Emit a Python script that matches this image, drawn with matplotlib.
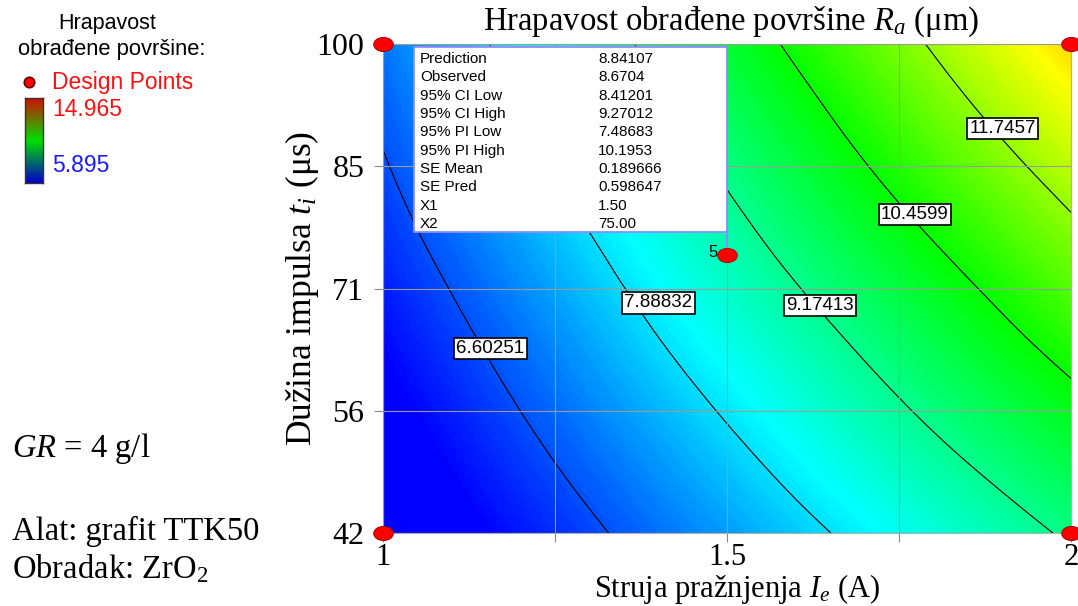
import numpy as np
import matplotlib
matplotlib.use('Agg')
import matplotlib.pyplot as plt
from matplotlib.colors import LinearSegmentedColormap, Normalize
from matplotlib.path import Path
from matplotlib.tri import Triangulation, UniformTriRefiner

plt.rcParams['font.family'] = 'Liberation Serif'
plt.rcParams['mathtext.fontset'] = 'custom'
plt.rcParams['mathtext.rm'] = 'Liberation Serif'
plt.rcParams['mathtext.it'] = 'Liberation Serif:italic'

# factor levels (grid nodes) and Ra
ie = [1.0, 1.25, 1.5, 1.75, 2.0]
ti = [42.0, 56.5, 71.0, 85.5, 100.0]
ra = [[5.30, 6.29, 7.29, 8.28, 9.28],
      [5.71, 6.83, 7.96, 9.09, 10.21],
      [6.14, 7.37, 8.64, 9.88, 11.16],
      [6.55, 7.93, 9.30, 10.71, 12.10],
      [6.94, 8.47, 9.99, 11.51, 13.04]]
levels = [6.60251, 7.88832, 9.17413, 10.4599, 11.7457]
label_x = [1.156, 1.400, 1.635, 1.773, 1.901]
label_y = [63.9, 69.3, 69.0, 79.8, 90.0]
ra_min, ra_max = 5.895, 14.965

xticks = [1, 1.25, 1.5, 1.75, 2]
xtick_labels = ['1', '', '1.5', '', '2']
ytick_labels = ['42', '56', '71', '85', '100']

design_x = [1, 1, 2, 2, 1.5]
design_y = [42, 100, 42, 100, 75]

info_names = ['Prediction', 'Observed', '95% CI Low', '95% CI High', '95% PI Low',
              '95% PI High', 'SE Mean', 'SE Pred', 'X1', 'X2']
info_vals = ['8.84107', '8.6704', '8.41201', '9.27012', '7.48683',
             '10.1953', '0.189666', '0.598647', '1.50', '75.00']

W, H = 1078, 606
fx = lambda px: px / W
fy = lambda py: 1 - py / H

de_cmap = LinearSegmentedColormap.from_list(
    'de', ['#0000ff', '#00ffff', '#00ff00', '#ffff00', '#ff0000'])
norm = Normalize(ra_min, ra_max)

fig = plt.figure(figsize=(W / 100, H / 100), dpi=100)
ax = fig.add_axes([fx(383), fy(533), fx(1071) - fx(383), fy(44) - fy(533)])

# grid -> triangles, smoothed by matplotlib's cubic refiner
X, Y = np.meshgrid(ie, ti)
nx, ny = len(ie), len(ti)
tris = []
for j in range(ny - 1):
    for i in range(nx - 1):
        a = j * nx + i
        tris.append([a, a + 1, a + nx + 1])
        tris.append([a, a + nx + 1, a + nx])
tri = Triangulation(X.ravel(), Y.ravel(), tris)
tri_f, z_f = UniformTriRefiner(tri).refine_field(np.array(ra).ravel(), subdiv=4)

ax.tricontourf(tri_f, z_f, levels=np.linspace(5.0, 13.4, 169), cmap=de_cmap,
               norm=norm, extend='both', antialiased=False, zorder=0)
ax.tricontour(tri_f, z_f, levels=levels, colors='k', linewidths=0.8, zorder=2)

ax.set_xlim(1, 2)
ax.set_ylim(42, 100)
ax.set_xticks(xticks)
ax.set_xticklabels(xtick_labels)
ax.set_yticks(ti)
ax.set_yticklabels(ytick_labels)
ax.grid(True, color='#9a9a9a', lw=0.8, zorder=1)
ax.set_axisbelow(False)
ax.tick_params(axis='x', length=6.5, width=0.8, color='#888888', pad=0.5, labelsize=22)
ax.tick_params(axis='y', length=6.5, width=0.8, color='#888888', pad=7, labelsize=23)
for s in ax.spines.values():
    s.set_color('#b0b0b0')
    s.set_linewidth(0.8)

# contour labels
for lv, lx, ly in zip(levels, label_x, label_y):
    ax.text(lx, ly, f'{lv:g}', family='Liberation Sans', fontsize=13.5,
            ha='center', va='center', zorder=4,
            bbox=dict(boxstyle='square,pad=0.12', fc='white', ec='black', lw=1.2))

# info box
bx0, bx1 = (414 - 383) / 688, 0.5
by0, by1 = (533 - 232) / 489, (533 - 47) / 489
ax.add_patch(plt.Rectangle((bx0, by0), bx1 - bx0, by1 - by0, transform=ax.transAxes,
                           fc='white', ec='#8c8cff', lw=1.3, zorder=5))
for i, (nm, vl) in enumerate(zip(info_names, info_vals)):
    yy = (533 - (59 + 18.35 * i)) / 489
    ax.text((420 - 383) / 688, yy, nm, transform=ax.transAxes, family='Liberation Sans',
            fontsize=11, va='center', ha='left', zorder=6)
    ax.text((598 - 383) / 688, yy, vl, transform=ax.transAxes, family='Liberation Sans',
            fontsize=11, va='center', ha='left', zorder=6)
ax.plot([1.5, 1.5], [42 + by0 * 58, design_y[4]], color='#8c8cff', lw=1.5, zorder=5)

# design points
circ = Path.unit_circle()
ell = Path(circ.vertices * [1, 0.72], circ.codes)
ax.plot(design_x, design_y, ls='none', marker=ell, ms=14, mfc='#ff0000', mec='#b00000',
        mew=0.8, clip_on=False, zorder=7)
ax.text(1.5 - 0.013, 75.3, '5', family='Liberation Sans', fontsize=12,
        ha='right', va='center', zorder=7)

# titles and axis labels
ax.text((731 - 383) / 688, (533 - 22) / 489, r'Hrapavost obrađene površine $R_a$ (μm)',
        transform=ax.transAxes, ha='center', va='center', fontsize=23.5)
ax.text((737 - 383) / 688, (533 - 597) / 489, r'Struja pražnjenja $I_e$ (A)',
        transform=ax.transAxes, ha='center', va='baseline', fontsize=22)
ax.text((302 - 383) / 688, 0.5, r'Dužina impulsa $t_i$ (μs)',
        transform=ax.transAxes, ha='center', va='center', fontsize=25.5, rotation=90)

# left legend
fig.text(fx(107), fy(23), 'Hrapavost', family='Liberation Sans', fontsize=15.5,
         ha='center', va='center')
fig.text(fx(112), fy(49), 'obrađene površine:', family='Liberation Sans', fontsize=15.8,
         ha='center', va='center')
fig.lines.append(plt.Line2D([fx(29)], [fy(82)], transform=fig.transFigure, ls='none',
                            marker='o', ms=7.5, mfc='#ff0000', mec='#600000', mew=1.2))
fig.text(fx(52), fy(82), 'Design Points', family='Liberation Sans', fontsize=16.5,
         color='#ff1010', ha='left', va='center')
fig.text(fx(52), fy(110), f'{ra_max:.3f}', family='Liberation Sans', fontsize=16.5,
         color='#ff1010', ha='left', va='center')
fig.text(fx(52), fy(165), f'{ra_min:.3f}', family='Liberation Sans', fontsize=16.5,
         color='#1a1aff', ha='left', va='center')
cax = fig.add_axes([fx(25), fy(183), fx(43) - fx(25), fy(98) - fy(183)])
bar_cmap = LinearSegmentedColormap.from_list('bar', ['#0000c8', '#00e000', '#d01000'])
cax.imshow(np.linspace(0, 1, 100)[:, None], aspect='auto', origin='lower', cmap=bar_cmap)
cax.set_xticks([])
cax.set_yticks([])
for s in cax.spines.values():
    s.set_color('#333333')
    s.set_linewidth(1.0)

fig.text(fx(12), fy(449), r'$GR$ = 4 g/l', fontsize=23.5, ha='left', va='center')
fig.text(fx(12), fy(531), 'Alat: grafit TTK50', fontsize=23.5, ha='left', va='center')
fig.text(fx(12), fy(569), r'Obradak: ZrO$_2$', fontsize=23.5, ha='left', va='center')

fig.savefig('out.png', dpi=100)
